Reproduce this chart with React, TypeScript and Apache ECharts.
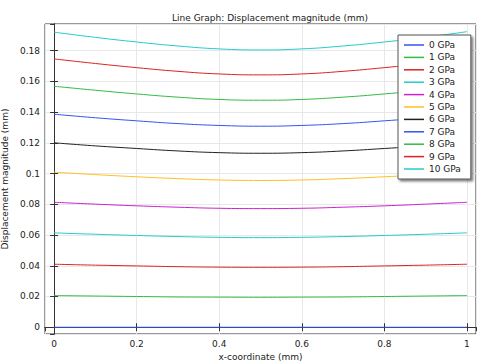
import React, { useEffect, useRef } from "react";
import * as echarts from "echarts";

const xValues = [0, 0.1, 0.2, 0.3, 0.4, 0.5, 0.6, 0.7, 0.8, 0.9, 1];
const seriesNames = ["0 GPa", "1 GPa", "2 GPa", "3 GPa", "4 GPa", "5 GPa", "6 GPa", "7 GPa", "8 GPa", "9 GPa", "10 GPa"];
const colors = ["#3355ee", "#33bb44", "#dd2222", "#22cccc", "#cc22cc", "#ffc020", "#222222", "#3355ee", "#33bb44", "#dd2222", "#22cccc"];

const gpa0 = [0, 0, 0, 0, 0, 0, 0, 0, 0, 0, 0];
const gpa1 = [0.0206, 0.0203, 0.0200, 0.0197, 0.0196, 0.0195, 0.0196, 0.0197, 0.0200, 0.0203, 0.0206];
const gpa2 = [0.0410, 0.0404, 0.0399, 0.0394, 0.0391, 0.0390, 0.0391, 0.0394, 0.0399, 0.0404, 0.0410];
const gpa3 = [0.0614, 0.0605, 0.0597, 0.0590, 0.0585, 0.0583, 0.0585, 0.0590, 0.0597, 0.0605, 0.0614];
const gpa4 = [0.0813, 0.0801, 0.0790, 0.0781, 0.0774, 0.0772, 0.0774, 0.0781, 0.0790, 0.0801, 0.0813];
const gpa5 = [0.1009, 0.0993, 0.0979, 0.0967, 0.0958, 0.0955, 0.0958, 0.0967, 0.0979, 0.0993, 0.1009];
const gpa6 = [0.1200, 0.1180, 0.1163, 0.1147, 0.1136, 0.1132, 0.1136, 0.1147, 0.1163, 0.1180, 0.1200];
const gpa7 = [0.1386, 0.1363, 0.1343, 0.1325, 0.1313, 0.1308, 0.1313, 0.1325, 0.1343, 0.1363, 0.1386];
const gpa8 = [0.1568, 0.1542, 0.1518, 0.1497, 0.1482, 0.1477, 0.1482, 0.1497, 0.1518, 0.1542, 0.1568];
const gpa9 = [0.1746, 0.1716, 0.1689, 0.1665, 0.1648, 0.1642, 0.1648, 0.1665, 0.1689, 0.1716, 0.1747];
const gpa10 = [0.1920, 0.1886, 0.1856, 0.1830, 0.1811, 0.1804, 0.1811, 0.1830, 0.1856, 0.1887, 0.1923];
const allSeries = [gpa0, gpa1, gpa2, gpa3, gpa4, gpa5, gpa6, gpa7, gpa8, gpa9, gpa10];

const FONT = "DejaVu Sans";

export default function App() {
  const ref = useRef<HTMLDivElement>(null);
  useEffect(() => {
    if (!ref.current) return;
    const chart = echarts.init(ref.current, undefined, { renderer: "svg" });
    const xMin = -0.022, xMax = 1.022, yMin = -0.0044, yMax = 0.1973;
    const frameColor = "#333";
    const gridColor = "#e8e8e8";
    chart.setOption({
      animation: false,
      backgroundColor: "#fff",
      textStyle: { fontFamily: FONT },
      title: {
        text: "Line Graph: Displacement magnitude (mm)",
        left: 265,
        top: 8,
        textAlign: "center",
        textStyle: { fontSize: 9, fontWeight: "normal", color: "#222", fontFamily: FONT },
      },
      grid: {
        left: 45, right: 6, top: 24, bottom: 29,
        containLabel: false,
        outerBoundsMode: "none",
        show: true, borderColor: frameColor, borderWidth: 1, backgroundColor: "#fff",
      },
      legend: {
        orient: "vertical",
        left: 398,
        top: 35,
        padding: [4, 10, 4, 6],
        itemWidth: 20,
        itemHeight: 1.5,
        itemGap: 0.4,
        icon: "rect",
        backgroundColor: "#fff",
        borderColor: "#555",
        borderWidth: 1,
        shadowColor: "rgba(0,0,0,0.5)",
        shadowBlur: 2,
        shadowOffsetX: 2,
        shadowOffsetY: 2,
        textStyle: { fontSize: 9, color: "#222", fontFamily: FONT, lineHeight: 12 },
        data: seriesNames,
      },
      xAxis: [
        {
          type: "value",
          min: xMin,
          max: xMax,
          splitNumber: 5,
          name: "x-coordinate (mm)",
          nameLocation: "middle",
          nameGap: 13,
          nameTextStyle: { fontSize: 9, color: "#222", fontFamily: FONT },
          axisLine: { show: true, lineStyle: { color: frameColor, width: 1 } },
          axisTick: { show: true, inside: true, length: 4, lineStyle: { color: frameColor } },
          axisLabel: { fontSize: 9, color: "#222", margin: 5, showMinLabel: false, showMaxLabel: false, fontFamily: FONT },
          splitLine: { show: true, lineStyle: { color: gridColor, width: 1 } },
        },
        {
          type: "value",
          position: "top",
          min: xMin,
          max: xMax,
          splitNumber: 5,
          axisLine: { show: true, lineStyle: { color: frameColor, width: 1 } },
          axisTick: { show: true, inside: true, length: 4, lineStyle: { color: frameColor } },
          axisLabel: { show: false },
          splitLine: { show: false },
        },
      ],
      yAxis: [
        {
          type: "value",
          min: yMin,
          max: yMax,
          splitNumber: 10,
          name: "Displacement magnitude (mm)",
          nameLocation: "middle",
          nameGap: 33,
          nameTextStyle: { fontSize: 9, color: "#222", fontFamily: FONT },
          axisLine: { show: true, lineStyle: { color: frameColor, width: 1 } },
          axisTick: { show: true, inside: true, length: 4, lineStyle: { color: frameColor } },
          axisLabel: { fontSize: 9, color: "#222", margin: 5, showMinLabel: false, showMaxLabel: false, fontFamily: FONT },
          splitLine: { show: true, lineStyle: { color: gridColor, width: 1 } },
        },
        {
          type: "value",
          position: "right",
          min: yMin,
          max: yMax,
          splitNumber: 10,
          axisLine: { show: true, lineStyle: { color: frameColor, width: 1 } },
          axisTick: { show: true, inside: true, length: 4, lineStyle: { color: frameColor } },
          axisLabel: { show: false },
          splitLine: { show: false },
        },
      ],
      series: allSeries.map((vals, i) => ({
        name: seriesNames[i],
        type: "line",
        smooth: true,
        symbol: "none",
        color: colors[i],
        lineStyle: { width: 1, color: colors[i] },
        data: vals.map((v, j) => [xValues[j], v]),
      })),
    });
    return () => chart.dispose();
  }, []);
  return <div ref={ref} style={{ width: 482, height: 363, position: "absolute", left: 0, top: 0 }} />;
}
